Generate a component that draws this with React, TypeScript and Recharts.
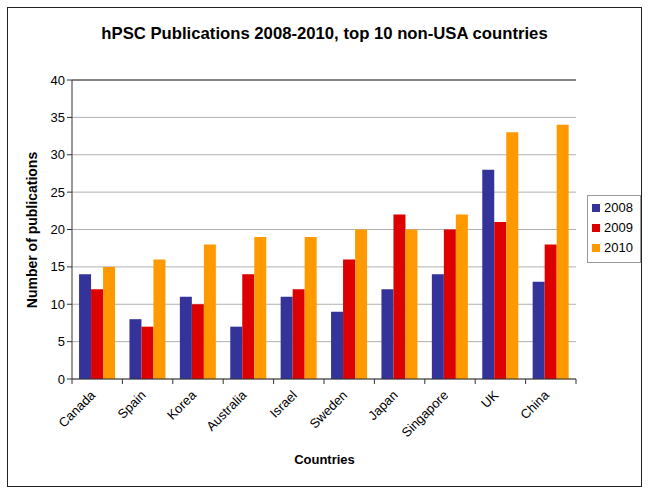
import React from "react";
import {
  BarChart,
  Bar,
  XAxis,
  YAxis,
  CartesianGrid,
  ReferenceLine,
} from "recharts";

const countries = ["Canada", "Spain", "Korea", "Australia", "Israel", "Sweden", "Japan", "Singapore", "UK", "China"];
const pubs2008 = [14, 8, 11, 7, 11, 9, 12, 14, 28, 13];
const pubs2009 = [12, 7, 10, 14, 12, 16, 22, 20, 21, 18];
const pubs2010 = [15, 16, 18, 19, 19, 20, 20, 22, 33, 34];
const yTicks = [0, 5, 10, 15, 20, 25, 30, 35, 40];

const series = [
  { key: "y2008", name: "2008", color: "#333399" },
  { key: "y2009", name: "2009", color: "#dd0000" },
  { key: "y2010", name: "2010", color: "#ff9900" },
];

const FONT = "Arial, 'Liberation Sans', sans-serif";

// eslint-disable-next-line @typescript-eslint/no-explicit-any
function CountryTick(props: any) {
  const { x, y, payload, index } = props;
  const half = payload?.offset ?? 25.2;
  const tx = x - 1;
  const ty = y + 9;
  return (
    <g>
      <line x1={x - half} y1={y - 8} x2={x - half} y2={y - 3} stroke="#333" />
      {index === countries.length - 1 && (
        <line x1={x + half} y1={y - 8} x2={x + half} y2={y - 3} stroke="#333" />
      )}
      <text
        x={tx}
        y={ty}
        textAnchor="end"
        fontSize={13}
        fontFamily={FONT}
        fill="#000"
        transform={`rotate(-45 ${tx} ${ty})`}
      >
        {payload.value}
      </text>
    </g>
  );
}

export default function App() {
  const data = countries.map((c, i) => ({
    country: c,
    y2008: pubs2008[i],
    y2009: pubs2009[i],
    y2010: pubs2010[i],
  }));

  return (
    <div style={{ position: "absolute", left: 0, top: 0, width: 649, height: 494, background: "#fff", fontFamily: FONT }}>
      <div
        style={{
          position: "absolute",
          left: 7,
          top: 7,
          width: 633,
          height: 478,
          border: "1px solid #222",
        }}
      />
      <div
        style={{
          position: "absolute",
          left: 0,
          width: 649,
          top: 24,
          textAlign: "center",
          fontWeight: "bold",
          fontSize: 16.7,
        }}
      >
        hPSC Publications 2008-2010, top 10 non-USA countries
      </div>
      <div
        style={{
          position: "absolute",
          left: 32,
          top: 230,
          transform: "translate(-50%, -50%) rotate(-90deg)",
          whiteSpace: "nowrap",
          fontWeight: "bold",
          fontSize: 14,
        }}
      >
        Number of publications
      </div>
      <div
        style={{
          position: "absolute",
          left: 0,
          width: 649,
          top: 452,
          textAlign: "center",
          fontWeight: "bold",
          fontSize: 13,
        }}
      >
        Countries
      </div>
      <div
        style={{
          position: "absolute",
          left: 587,
          top: 195,
          width: 52,
          height: 66,
          border: "1px solid #999",
          fontSize: 13,
        }}
      >
        {series.map((s, i) => (
          <div
            key={s.key}
            style={{ position: "absolute", left: 4, top: 4 + i * 20, display: "flex", alignItems: "center" }}
          >
            <span style={{ display: "inline-block", width: 8, height: 8, background: s.color, marginRight: 4 }} />
            <span>{s.name}</span>
          </div>
        ))}
      </div>
      <div style={{ position: "absolute", left: 0, top: 0 }}>
        <BarChart
          width={649}
          height={494}
          data={data}
          margin={{ top: 80, right: 73, bottom: 0, left: 0 }}
          barCategoryGap="14%"
          barGap={0}
        >
          <CartesianGrid vertical={false} stroke="#b0b0b0" />
          <XAxis
            dataKey="country"
            interval={0}
            axisLine={{ stroke: "#333" }}
            tickLine={false}
            tick={<CountryTick />}
            height={115}
          />
          <YAxis
            domain={[0, 40]}
            ticks={yTicks}
            width={72}
            axisLine={{ stroke: "#333" }}
            tickLine={{ stroke: "#333" }}
            tickSize={5}
            tick={{ fontSize: 13, fill: "#000", fontFamily: FONT }}
          />
          <YAxis
            yAxisId="right"
            orientation="right"
            domain={[0, 40]}
            width={0}
            tick={false}
            tickLine={false}
            axisLine={{ stroke: "#333" }}
          />
          <ReferenceLine y={40} stroke="#333" />
          {series.map((s) => (
            <Bar key={s.key} dataKey={s.key} name={s.name} fill={s.color} isAnimationActive={false} />
          ))}
        </BarChart>
      </div>
    </div>
  );
}
